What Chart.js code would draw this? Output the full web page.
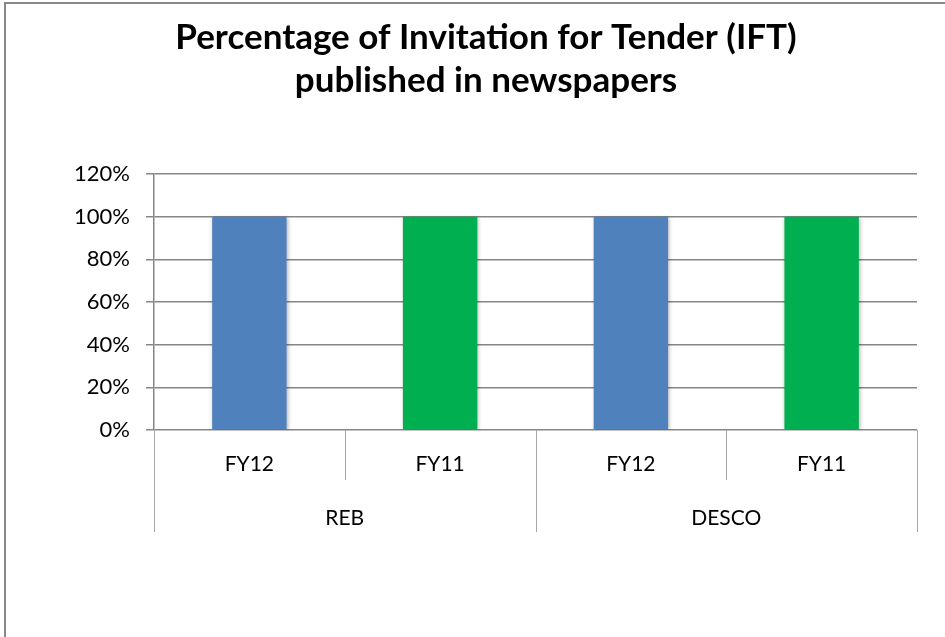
<!DOCTYPE html>
<html>
<head>
<meta charset="utf-8">
<title>IFT published in newspapers</title>
<script src="https://cdn.jsdelivr.net/npm/chart.js@4.4.0/dist/chart.umd.min.js"></script>
<style>
  body { margin: 0; background: #fff; }
  #wrap { position: relative; width: 945px; height: 637px; }
</style>
</head>
<body>
<div id="wrap"><canvas id="ift-chart"></canvas></div>
<script>
  // Data
  const years = ['FY12', 'FY11', 'FY12', 'FY11'];
  const groups = ['REB', 'DESCO'];
  const groupSize = 2;
  const values = [100, 100, 100, 100];
  const yTicks = [0, 20, 40, 60, 80, 100, 120];

  const yearColors = { FY12: '#4F81BD', FY11: '#00B050' };
  const gridColor = '#868686';
  const font = 'Lato, "Open Sans", sans-serif';

  // Frame round the chart, plus bar shadow
  const framePlugin = {
    id: 'frame',
    beforeDraw(chart) {
      const ctx = chart.ctx;
      ctx.save();
      ctx.fillStyle = '#fff';
      ctx.fillRect(0, 0, chart.width, chart.height);
      ctx.strokeStyle = '#888';
      ctx.lineWidth = 2;
      ctx.strokeRect(5, 3, 1200, 1200);
      ctx.restore();
    },
    beforeDatasetDraw(chart) {
      const ctx = chart.ctx;
      ctx.save();
      ctx.shadowColor = 'rgba(0,0,0,0.3)';
      ctx.shadowBlur = 4;
      ctx.shadowOffsetX = 1;
      ctx.shadowOffsetY = 1;
    },
    afterDatasetDraw(chart) {
      chart.ctx.restore();
    }
  };

  // Two-level category axis: dividers and group labels
  const groupAxisPlugin = {
    id: 'groupAxis',
    afterDraw(chart) {
      const ctx = chart.ctx;
      const x = chart.scales.x;
      const top = chart.chartArea.bottom;
      const n = years.length;
      const edge = i => {
        if (i === 0) return x.left;
        if (i === n) return x.right;
        return (x.getPixelForValue(i - 1) + x.getPixelForValue(i)) / 2;
      };
      ctx.save();
      ctx.strokeStyle = '#a6a6a6';
      ctx.lineWidth = 1;
      for (let i = 0; i <= n; i++) {
        const px = Math.round(edge(i)) + 0.5;
        const len = (i % groupSize === 0) ? 102 : 50;
        ctx.beginPath();
        ctx.moveTo(px, top);
        ctx.lineTo(px, top + len);
        ctx.stroke();
      }
      ctx.fillStyle = '#000';
      ctx.font = '21px ' + font;
      ctx.textAlign = 'center';
      ctx.textBaseline = 'middle';
      groups.forEach((g, k) => {
        const cx = (edge(k * groupSize) + edge((k + 1) * groupSize)) / 2;
        ctx.fillText(g, cx, top + 88);
      });
      ctx.restore();
    }
  };

  const iftConfig = {
    type: 'bar',
    data: {
      labels: years,
      datasets: [{
        label: 'IFT published',
        data: values,
        backgroundColor: years.map(y => yearColors[y]),
        barPercentage: 0.39,
        categoryPercentage: 1
      }]
    },
    options: {
      responsive: true,
      maintainAspectRatio: false,
      animation: false,
      layout: { padding: { top: 8, right: 28, left: 55, bottom: 0 } },
      plugins: {
        legend: { display: false },
        tooltip: { enabled: false },
        title: {
          display: true,
          text: ['Percentage of Invitation for Tender (IFT)', 'published in newspapers'],
          color: '#000',
          font: { family: font, size: 35, weight: 'bold', lineHeight: 1.23 },
          padding: { top: 8, bottom: 72 }
        }
      },
      scales: {
        x: {
          grid: { display: false },
          border: { display: false },
          ticks: {
            color: '#000',
            font: { family: font, size: 21 },
            padding: 14,
            maxRotation: 0
          },
          afterFit(scale) { scale.height = 207; }
        },
        y: {
          min: 0,
          max: 120,
          afterBuildTicks(scale) { scale.ticks = yTicks.map(v => ({ value: v })); },
          grid: { color: gridColor, lineWidth: 1.5, tickLength: 8 },
          border: { color: gridColor, width: 1.5 },
          ticks: {
            color: '#000',
            font: { family: font, size: 22 },
            padding: 16,
            callback: v => v + '%'
          },
          afterFit(scale) { scale.width = 99; }
        }
      }
    },
    plugins: [framePlugin, groupAxisPlugin]
  };

  const iftChart = new Chart(document.getElementById('ift-chart'), iftConfig);
</script>
</body>
</html>
